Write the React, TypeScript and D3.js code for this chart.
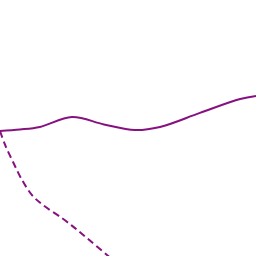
import React from "react";
import * as d3 from "d3";

const solidX = [0, 0.78, 1.56, 2.81, 4.06, 5.27, 6.25, 7.81, 9.38, 10];
const solidY = [48.8, 49.4, 50.4, 54.3, 51.4, 49.2, 50.4, 55.9, 61.3, 62.5];
const dashX = [0, 0.2, 0.51, 0.86, 1.25, 1.68, 2.42, 2.93, 3.4, 4.18, 4.5];
const dashY = [48.8, 43.4, 36.7, 29.7, 23.8, 19.9, 14.8, 10.9, 7.0, 0.4, -2.3];

const W = 256;
const H = 256;

export default function App() {
  const x = d3.scaleLinear().domain([0, 10]).range([0, W]);
  const y = d3.scaleLinear().domain([0, 100]).range([H, 0]);
  const line = d3
    .line<[number, number]>()
    .x((d) => x(d[0]))
    .y((d) => y(d[1]))
    .curve(d3.curveCatmullRom.alpha(0.5));
  const solid = solidX.map((v, i) => [v, solidY[i]] as [number, number]);
  const dashed = dashX.map((v, i) => [v, dashY[i]] as [number, number]);
  return (
    <svg
      width={W}
      height={H}
      style={{ position: "absolute", left: 0, top: 0, background: "#fff" }}
    >
      <path d={line(solid) || ""} fill="none" stroke="#86117f" strokeWidth={2} />
      <path
        d={line(dashed) || ""}
        fill="none"
        stroke="#86117f"
        strokeWidth={2}
        strokeDasharray="7,4"
      />
    </svg>
  );
}
